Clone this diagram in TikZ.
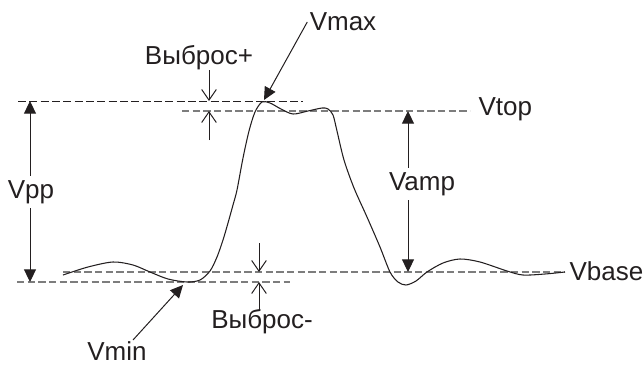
\documentclass[tikz,border=0pt]{standalone}
\usepackage{fontspec}
\setmainfont{Liberation Sans}
\usetikzlibrary{arrows.meta}
\definecolor{inkgray}{RGB}{35,31,32}
\definecolor{levelgray}{RGB}{125,125,125}
\tikzset{every picture/.style={line width=0.75pt}}
\tikzset{
  peakline/.style={draw=inkgray, line width=0.6pt, dash pattern={on 6pt off 2.5pt}},
  levelline/.style={draw=levelgray, line width=0.9pt, dash pattern={on 5.5pt off 2.5pt}},
  bigarrow/.style={draw=inkgray, {Triangle[length=9.5pt,width=9pt]}-{Triangle[length=9.5pt,width=9pt]}},
  pointer/.style={draw=inkgray, -{Triangle[length=9.5pt,width=9pt]}},
  offset/.style={draw=inkgray, -{Straight Barb[length=8pt,width=11pt]}},
  tag/.style={text=inkgray, inner sep=1.5pt, font=\fontsize{19.5}{22}\selectfont},
}

\begin{document}
\begin{tikzpicture}[x=0.75pt,y=0.75pt,yscale=-1,xscale=1]
\useasboundingbox (0,0) rectangle (644,365);

% level lines
\draw [peakline] (18,101) -- (303,101) ;
\draw [levelline] (182,111) -- (470,111) ;
\draw [levelline] (63,272) -- (565,272) ;
\draw [levelline] (17,282) -- (290,282) ;

% waveform
\draw [inkgray, line width=0.8pt] plot [smooth, tension=0.5] coordinates {
  (63,275) (88,267) (113,262) (133,265) (150,272) (168,279) (187,282)
  (200,280) (210,271) (217,257) (223,240) (228,223) (233,205) (237,190)
  (243,158) (249,131) (255,112) (262,102) (270,103) (281,109) (293,114)
  (308,111) (322,108) (328,109) (333,115) (337,131) (344,160) (354,188)
  (367,217) (380,247) (390,272) (398,282) (406,285) (416,281) (427,272)
  (443,263) (460,259) (480,262) (507,271) (523,275) (545,274) (565,272) };

% text nodes
\node [tag] (vmax) at (343,22) {Vmax};
\node [tag] (plus) at (199,58) {Выброс+};
\node [tag, anchor=west] (vtop) at (476,109) {Vtop};
\node [tag, anchor=west] (vbase) at (567,271) {Vbase};
\node [tag] (minus) at (262,322) {Выброс-};
\node [tag] (vmin) at (117,351) {Vmin};

% peak-to-peak and amplitude
\coordinate (ppTop) at (30,101);
\coordinate (ppBot) at (30,282);
\coordinate (ampTop) at (408,111);
\coordinate (ampBot) at (408,272);
\draw [bigarrow] (ppTop) -- (ppBot) ;
\draw [bigarrow] (ampTop) -- (ampBot) ;
\node [tag, fill=white, inner sep=3pt] (vpp) at (31,192) {Vpp};
\node [tag, fill=white, inner sep=3pt] (vamp) at (422,184) {Vamp};

% extremes
\coordinate (peak) at (264,100);
\coordinate (dip) at (183,285);
\coordinate (vminTail) at (133,340);
\draw [pointer] (vmax.west) -- (peak) ;
\draw [pointer] (vminTail) -- (dip) ;

% overshoots
\coordinate (plusA) at (209,70);
\coordinate (plusB) at (209,101);
\coordinate (plusC) at (209,140);
\coordinate (plusD) at (209,111);
\draw [offset] (plusA) -- (plusB) ;
\draw [offset] (plusC) -- (plusD) ;
\coordinate (minusA) at (259,243);
\coordinate (minusB) at (259,272);
\coordinate (minusC) at (259,310);
\coordinate (minusD) at (259,282);
\draw [offset] (minusA) -- (minusB) ;
\draw [offset] (minusC) -- (minusD) ;

\end{tikzpicture}
\end{document}
